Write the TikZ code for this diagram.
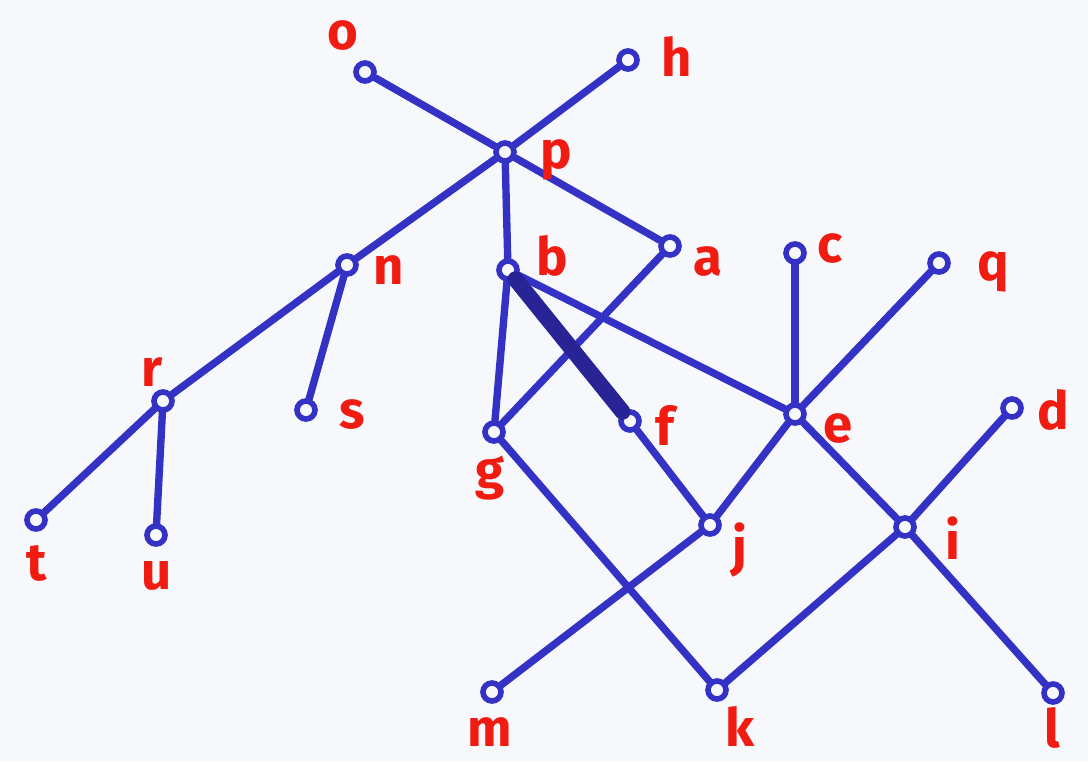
\documentclass[tikz,border=0pt]{standalone}
\usepackage{fontspec}
\setsansfont{Fira Sans}
\usepackage{tikz}
\usetikzlibrary{positioning,calc}
\definecolor{PenBlue}{RGB}{52,50,196}
\definecolor{DarkPen}{RGB}{40,36,150}
\definecolor{PenRed}{RGB}{240,28,18}
\definecolor{Paper}{RGB}{247,248,252}
\tikzset{
	v/.style={circle,draw=PenBlue,fill=Paper,line width=3.2pt,inner sep=0pt,minimum size=0.36cm},
	edge/.style={draw=PenBlue,line width=4.2pt,line cap=round},
	heavy/.style={draw=DarkPen,line width=9pt,line cap=round},
	lbl/.style={text=PenRed,font=\fontsize{30}{30}\selectfont\sffamily\bfseries,inner sep=0pt},
}

\begin{document}
\begin{tikzpicture}[x=0.02cm,y=-0.02cm]
			\fill[Paper] (0,0) rectangle (1088,761);
			\useasboundingbox (0,0) rectangle (1088,761);
			% vertices
			\node[v] (o) at (365,72) {};
			\node[v] (h) at (628,60) {};
			\node[v] (p) at (505,152) {};
			\node[v] (n) at (347,265) {};
			\node[v] (b) at (508,270) {};
			\node[v] (a) at (670,246) {};
			\node[v] (c) at (795,253) {};
			\node[v] (q) at (939,263) {};
			\node[v] (r) at (163,401) {};
			\node[v] (s) at (306,410) {};
			\node[v] (g) at (494,432) {};
			\node[v] (f) at (630,421) {};
			\node[v] (e) at (795,414) {};
			\node[v] (d) at (1012,408) {};
			\node[v] (t) at (36,520) {};
			\node[v] (u) at (156,535) {};
			\node[v] (j) at (710,525) {};
			\node[v] (i) at (905,527) {};
			\node[v] (m) at (492,692) {};
			\node[v] (k) at (717,690) {};
			\node[v] (l) at (1053,693) {};
			% edges
			\draw[edge] (o)--(p);
			\draw[edge] (h)--(p);
			\draw[edge] (p)--(n);
			\draw[edge] (p)--(b);
			\draw[edge] (p)--(a);
			\draw[edge] (n)--(r);
			\draw[edge] (n)--(s);
			\draw[edge] (r)--(t);
			\draw[edge] (r)--(u);
			\draw[edge] (b)--(g);
			\draw[edge] (b)--(e);
			\draw[edge] (a)--(g);
			\draw[edge] (c)--(e);
			\draw[edge] (q)--(e);
			\draw[edge] (e)--(j);
			\draw[edge] (e)--(i);
			\draw[edge] (d)--(i);
			\draw[edge] (i)--(k);
			\draw[edge] (i)--(l);
			\draw[edge] (f)--(j);
			\draw[edge] (j)--(m);
			\draw[edge] (g)--(k);
			\draw[heavy] (b)--(f);
			% labels
			\node[lbl] (lo) at (343,36) {o};
			\node[lbl] (lh) at (677,57) {h};
			\node[lbl] (lp) at (556,160) {p};
			\node[lbl] (ln) at (389,270) {n};
			\node[lbl] (lb) at (552,256) {b};
			\node[lbl] (la) at (708,262) {a};
			\node[lbl] (lc) at (830,248) {c};
			\node[lbl] (lq) at (993,272) {q};
			\node[lbl] (lr) at (152,372) {r};
			\node[lbl] (ls) at (352,414) {s};
			\node[lbl] (lg) at (490,478) {g};
			\node[lbl] (lf) at (665,425) {f};
			\node[lbl] (le) at (838,428) {e};
			\node[lbl] (ld) at (1053,410) {d};
			\node[lbl] (lt) at (37,563) {t};
			\node[lbl] (lu) at (157,576) {u};
			\node[lbl] (lj) at (740,550) {j};
			\node[lbl] (li) at (953,538) {i};
			\node[lbl] (lm) at (490,732) {m};
			\node[lbl] (lk) at (740,726) {k};
			\node[lbl] (ll) at (1052,728) {l};
		\end{tikzpicture}
\end{document}
